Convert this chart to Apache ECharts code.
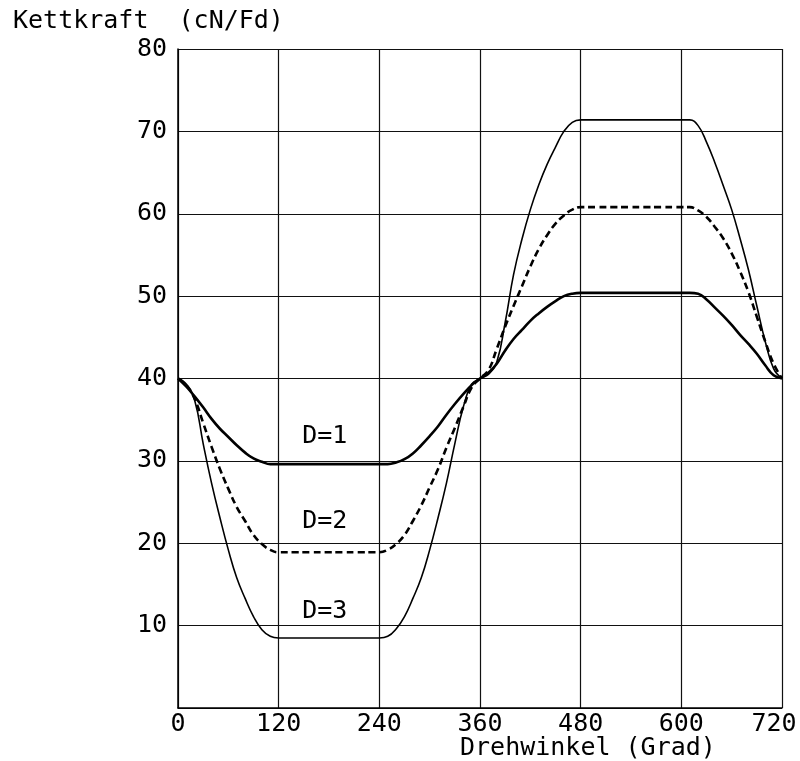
<!DOCTYPE html>
<html>
<head>
<meta charset="utf-8">
<script src="https://cdn.jsdelivr.net/npm/echarts@6/dist/echarts.min.js"></script>
<style>
html,body{margin:0;padding:0;background:#fff;}
#c{width:800px;height:761px;}
</style>
</head>
<body>
<div id="c"></div>
<script>
// Angles (Grad)
const angles = [0,10,20,30,40,50,60,70,80,90,100,110,120,130,140,150,160,170,180,190,200,210,220,230,240,250,260,270,280,290,300,310,320,330,340,350,360,370,380,390,400,410,420,430,440,450,460,470,480,490,500,510,520,530,540,550,560,570,580,590,600,610,620,630,640,650,660,670,680,690,700,710,720];

const d1 = [40,39.0,37.8,36.5,35.1,33.9,32.9,31.9,31.0,30.3,29.9,29.6,29.6,29.6,29.6,29.6,29.6,29.6,29.6,29.6,29.6,29.6,29.6,29.6,29.6,29.6,29.8,30.2,30.9,31.9,33.0,34.2,35.6,36.9,38.1,39.2,40,40.7,41.8,43.4,44.8,45.9,47.0,47.9,48.7,49.4,50.0,50.3,50.4,50.4,50.4,50.4,50.4,50.4,50.4,50.4,50.4,50.4,50.4,50.4,50.4,50.4,50.3,49.6,48.6,47.6,46.5,45.3,44.2,43.0,41.6,40.4,40];

const d2 = [40,39.2,37.5,34.6,31.7,29.0,26.6,24.4,22.7,21.0,19.9,19.2,18.9,18.9,18.9,18.9,18.9,18.9,18.9,18.9,18.9,18.9,18.9,18.9,18.9,19.2,19.9,21.0,22.7,24.6,26.8,29.0,31.6,34.0,36.5,38.9,40,41.0,43.6,46.3,48.8,51.2,53.6,55.7,57.4,58.8,59.8,60.5,60.8,60.8,60.8,60.8,60.8,60.8,60.8,60.8,60.8,60.8,60.8,60.8,60.8,60.8,60.4,59.6,58.4,57.0,55.2,53.0,50.5,47.5,44.5,41.8,40];

const d3 = [40,39.3,37.3,32.1,27.3,23.1,19.2,15.8,13.3,11.1,9.5,8.7,8.5,8.5,8.5,8.5,8.5,8.5,8.5,8.5,8.5,8.5,8.5,8.5,8.5,8.7,9.6,11.1,13.3,15.8,19.2,23.1,27.3,32.1,36.5,39.3,40,40.5,42.0,46.8,52.6,56.9,60.5,63.5,66.0,68.1,70.0,71.1,71.4,71.4,71.4,71.4,71.4,71.4,71.4,71.4,71.4,71.4,71.4,71.4,71.4,71.4,70.7,68.7,66.2,63.4,60.5,57.0,53.2,48.8,44.5,41.2,40];

const xTicks = [0,120,240,360,480,600,720];
const yTicks = [10,20,30,40,50,60,70,80];
const curveNames = ['D=1','D=2','D=3'];

const FONT = 'DejaVu Sans Mono';
const FS = 25;

function pairs(vals){ return angles.map((a,i)=>[a, vals[i]]); }

function labelPoint(text, x, y){
  return {
    symbol: 'circle', symbolSize: 1,
    itemStyle: {color: 'rgba(0,0,0,0)'},
    label: {show: true, position: 'inside', formatter: text, color: '#000', fontFamily: FONT, fontSize: FS},
    data: [{coord: [x, y]}]
  };
}

const chart = echarts.init(document.getElementById('c'), null, {renderer: 'canvas'});
chart.setOption({
  animation: false,
  backgroundColor: '#fff',
  title: [
    {text: 'Kettkraft  (cN/Fd)', left: 8, top: 4,
     textStyle: {fontFamily: FONT, fontSize: FS, fontWeight: 'normal', color: '#000'}},
    {text: 'Drehwinkel (Grad)', left: 455, top: 731,
     textStyle: {fontFamily: FONT, fontSize: FS, fontWeight: 'normal', color: '#000'}}
  ],
  grid: {left: 178, right: 18, top: 49, bottom: 53, containLabel: false},
  xAxis: {
    type: 'value', min: 0, max: 720, interval: 120,
    axisLine: {show: true, lineStyle: {color: '#000', width: 1.5}},
    axisTick: {show: false},
    splitLine: {show: true, lineStyle: {color: '#111', width: 1.2}},
    axisLabel: {
      show: true, margin: 4, color: '#000', fontFamily: FONT, fontSize: FS,
      formatter: v => xTicks.includes(v) ? (v === 720 ? '{r|720}' : String(v)) : '',
      rich: {r: {fontFamily: FONT, fontSize: FS, color: '#000', padding: [0, 16, 0, 0]}}
    }
  },
  yAxis: {
    type: 'value', min: 0, max: 80, interval: 10,
    axisLine: {show: true, lineStyle: {color: '#000', width: 1.5}},
    axisTick: {show: false},
    splitLine: {show: true, lineStyle: {color: '#111', width: 1.2}},
    axisLabel: {
      show: true, margin: 11, color: '#000', fontFamily: FONT, fontSize: FS,
      formatter: v => yTicks.includes(v) ? String(v) : ''
    }
  },
  series: [
    {name: curveNames[0], type: 'line', data: pairs(d1), showSymbol: false, smooth: 0.45,
     lineStyle: {color: '#000', width: 2.6, type: 'solid'},
     markPoint: labelPoint(curveNames[0], 175, 32.9)},
    {name: curveNames[1], type: 'line', data: pairs(d2), showSymbol: false, smooth: 0.45,
     lineStyle: {color: '#000', width: 2.6, type: [7, 4]},
     markPoint: labelPoint(curveNames[1], 175, 22.7)},
    {name: curveNames[2], type: 'line', data: pairs(d3), showSymbol: false, smooth: 0.45,
     lineStyle: {color: '#000', width: 1.6, type: 'solid'},
     markPoint: labelPoint(curveNames[2], 175, 11.7)}
  ]
});
</script>
</body>
</html>
